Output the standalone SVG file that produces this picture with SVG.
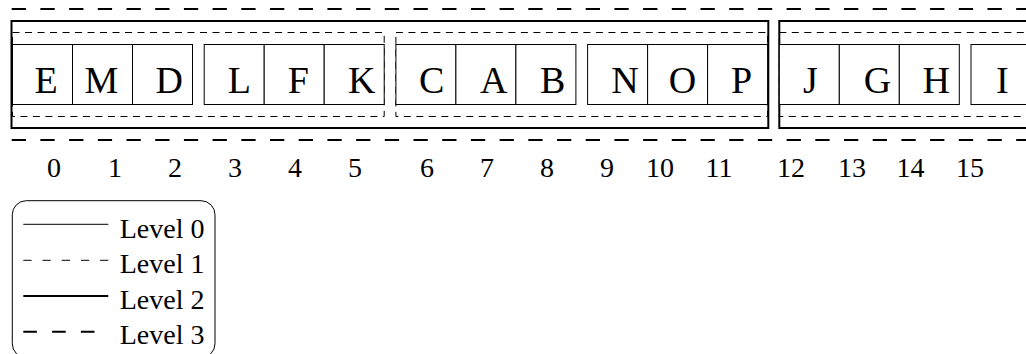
<svg xmlns="http://www.w3.org/2000/svg" width="1026" height="354" viewBox="0 0 1026 354">
<style>
  .l0 { fill: #fff; stroke: #000; stroke-width: 1; }
  .l1 { fill: none; stroke: #000; stroke-width: 1; stroke-dasharray: 7 5.5; }
  .l2 { fill: none; stroke: #000; stroke-width: 2; }
  .l3 { fill: none; stroke: #000; stroke-width: 2; stroke-dasharray: 14.3 14.4; }
  .lg1 { fill: none; stroke: #000; stroke-width: 1; stroke-dasharray: 8.3 10.9; }
  .lg3 { fill: none; stroke: #000; stroke-width: 2; stroke-dasharray: 13.6 15.2; }
  .lbl { font-family: "Liberation Serif", "Times New Roman", serif; font-size: 38px; fill: #000; }
  .num { font-family: "Liberation Serif", "Times New Roman", serif; font-size: 28px; fill: #000; text-anchor: middle; }
  .leg { font-family: "Liberation Serif", "Times New Roman", serif; font-size: 28px; fill: #000; }
</style>
<rect width="1026" height="354" fill="#fff"/>

<!-- Level 3 -->
<g id="level3">
  <line class="l3" x1="11.7" y1="9" x2="1026" y2="9"/>
  <line class="l3" x1="11.7" y1="140" x2="1026" y2="140"/>
</g>

<!-- Level 2 -->
<g id="level2">
  <rect class="l2" x="11.5" y="21" width="756.8" height="107"/>
  <rect class="l2" x="779.3" y="21" width="260" height="107"/>
</g>

<!-- Level 1 -->
<g id="level1">
  <rect class="l1" x="12.5" y="32.5" width="371.7" height="84"/>
  <rect class="l1" x="395.9" y="32.5" width="371.7" height="84"/>
  <rect class="l1" x="779.3" y="32.5" width="260" height="84"/>
</g>

<!-- Level 0 cells -->
<g id="cell-E"><rect class="l0" x="12.5" y="44.5" width="60" height="60"/><text class="lbl" x="34.5" y="93">E</text></g>
<g id="cell-M"><rect class="l0" x="72.5" y="44.5" width="60" height="60"/><text class="lbl" x="84.5" y="93">M</text></g>
<g id="cell-D"><rect class="l0" x="132.5" y="44.5" width="60" height="60"/><text class="lbl" x="155.4" y="93">D</text></g>

<g id="cell-L"><rect class="l0" x="204.2" y="44.5" width="60" height="60"/><text class="lbl" x="227.8" y="93">L</text></g>
<g id="cell-F"><rect class="l0" x="264.2" y="44.5" width="60" height="60"/><text class="lbl" x="287.8" y="93">F</text></g>
<g id="cell-K"><rect class="l0" x="324.2" y="44.5" width="60" height="60"/><text class="lbl" x="348" y="93">K</text></g>

<g id="cell-C"><rect class="l0" x="395.9" y="44.5" width="60" height="60"/><text class="lbl" x="418.9" y="93">C</text></g>
<g id="cell-A"><rect class="l0" x="455.9" y="44.5" width="60" height="60"/><text class="lbl" x="480.1" y="93">A</text></g>
<g id="cell-B"><rect class="l0" x="515.9" y="44.5" width="60" height="60"/><text class="lbl" x="540.1" y="93">B</text></g>

<g id="cell-N"><rect class="l0" x="587.6" y="44.5" width="60" height="60"/><text class="lbl" x="611.2" y="93">N</text></g>
<g id="cell-O"><rect class="l0" x="647.6" y="44.5" width="60" height="60"/><text class="lbl" x="668.7" y="93">O</text></g>
<g id="cell-P"><rect class="l0" x="707.6" y="44.5" width="60" height="60"/><text class="lbl" x="731.1" y="93">P</text></g>

<g id="cell-J"><rect class="l0" x="779.3" y="44.5" width="60" height="60"/><text class="lbl" x="802.9" y="93">J</text></g>
<g id="cell-G"><rect class="l0" x="839.3" y="44.5" width="60" height="60"/><text class="lbl" x="863.8" y="93">G</text></g>
<g id="cell-H"><rect class="l0" x="899.3" y="44.5" width="60" height="60"/><text class="lbl" x="922.6" y="93">H</text></g>

<g id="cell-I"><rect class="l0" x="971" y="44.5" width="60" height="60"/><text class="lbl" x="996" y="93">I</text></g>

<!-- Indices -->
<g id="indices">
  <text class="num" x="54" y="176.5">0</text>
  <text class="num" x="115" y="176.5">1</text>
  <text class="num" x="175" y="176.5">2</text>
  <text class="num" x="235" y="176.5">3</text>
  <text class="num" x="295" y="176.5">4</text>
  <text class="num" x="355" y="176.5">5</text>
  <text class="num" x="427" y="176.5">6</text>
  <text class="num" x="487" y="176.5">7</text>
  <text class="num" x="547" y="176.5">8</text>
  <text class="num" x="607" y="176.5">9</text>
  <text class="num" x="660" y="176.5">10</text>
  <text class="num" x="719" y="176.5">11</text>
  <text class="num" x="791" y="176.5">12</text>
  <text class="num" x="852" y="176.5">13</text>
  <text class="num" x="910.5" y="176.5">14</text>
  <text class="num" x="970" y="176.5">15</text>
</g>

<!-- Legend -->
<g id="legend">
  <rect x="12.3" y="200.7" width="202.7" height="157" rx="14" ry="14" fill="none" stroke="#000" stroke-width="1"/>
  <line x1="23.3" y1="224.3" x2="108.3" y2="224.3" stroke="#000" stroke-width="1"/>
  <line class="lg1" x1="23.3" y1="260.3" x2="108.3" y2="260.3"/>
  <line x1="23.3" y1="296" x2="108.3" y2="296" stroke="#000" stroke-width="2"/>
  <line class="lg3" x1="23.3" y1="331.7" x2="108.3" y2="331.7"/>
  <text class="leg" x="119.7" y="237.8">Level 0</text>
  <text class="leg" x="119.7" y="273">Level 1</text>
  <text class="leg" x="119.7" y="308.5">Level 2</text>
  <text class="leg" x="119.7" y="344.2">Level 3</text>
</g>
</svg>
